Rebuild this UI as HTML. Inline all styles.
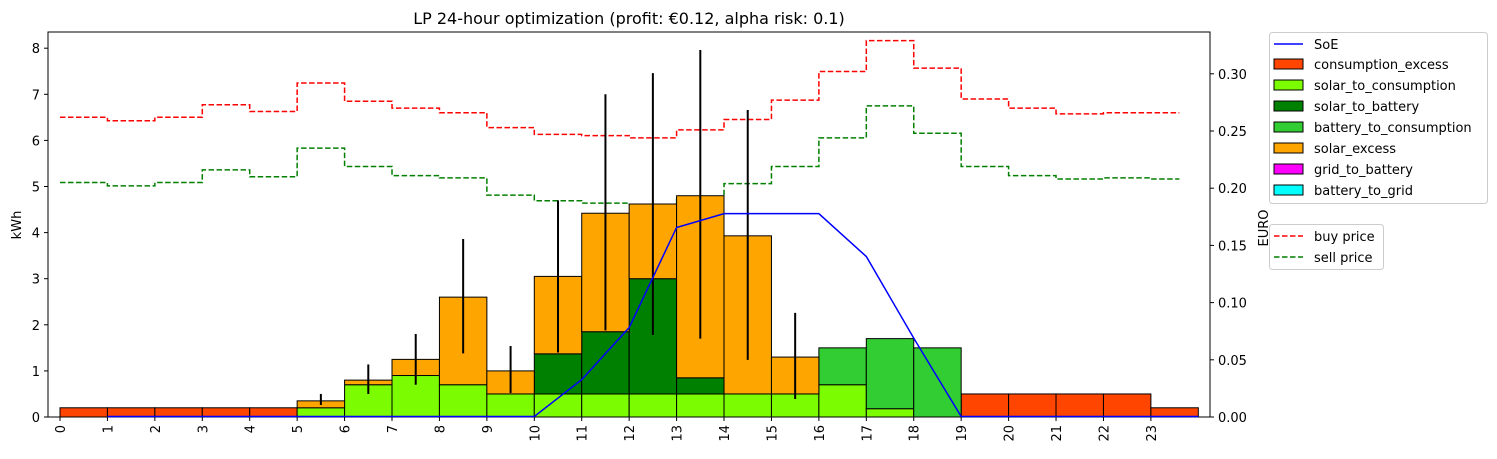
<!DOCTYPE html>
<html><head><meta charset="utf-8"><style>
body{margin:0;background:#fff;font-family:"Liberation Sans","DejaVu Sans",sans-serif}
svg text{font-family:"DejaVu Sans","Liberation Sans",sans-serif}
</style></head><body>
<svg id="chart" width="1497" height="454" xmlns="http://www.w3.org/2000/svg">
<text x="629" y="24" font-size="16" text-anchor="middle">LP 24-hour optimization (profit: €0.12, alpha risk: 0.1)</text>
<g id="plot"></g>
</svg>
<script>
const hours=[0,1,2,3,4,5,6,7,8,9,10,11,12,13,14,15,16,17,18,19,20,21,22,23];
const consumptionExcess=[0.2,0.2,0.2,0.2,0.2,0,0,0,0,0,0,0,0,0,0,0,0,0,0,0.5,0.5,0.5,0.5,0.2];
const solarToConsumption=[0,0,0,0,0,0.2,0.7,0.9,0.7,0.5,0.5,0.5,0.5,0.5,0.5,0.5,0.7,0.18,0,0,0,0,0,0];
const solarToBattery=[0,0,0,0,0,0,0,0,0,0,0.87,1.35,2.5,0.35,0,0,0,0,0,0,0,0,0,0];
const batteryToConsumption=[0,0,0,0,0,0,0,0,0,0,0,0,0,0,0,0,0.8,1.52,1.5,0,0,0,0,0];
const solarExcess=[0,0,0,0,0,0.15,0.1,0.35,1.9,0.5,1.68,2.57,1.62,3.95,3.43,0.8,0,0,0,0,0,0,0,0];
const gridToBattery=new Array(24).fill(0);
const batteryToGrid=new Array(24).fill(0);
const errLow=[null,null,null,null,null,0.26,0.5,0.7,1.38,0.52,1.4,1.88,1.78,1.7,1.24,0.39,null,null,null,null,null,null,null,null];
const errHigh=[null,null,null,null,null,0.5,1.14,1.8,3.86,1.54,4.7,7.0,7.46,7.96,6.66,2.26,null,null,null,null,null,null,null,null];
const soeHours=[1,2,3,4,5,6,7,8,9,10,11,12,13,14,15,16,17,18,19,20,21,22,23,24];
const soe=[0,0,0,0,0,0,0,0,0,0,0.8,1.93,4.1,4.4,4.4,4.4,3.47,1.7,0,0,0,0,0,0];
const buyPrice=[0.262,0.259,0.262,0.273,0.267,0.292,0.276,0.270,0.266,0.253,0.247,0.246,0.244,0.251,0.260,0.277,0.302,0.329,0.305,0.278,0.270,0.265,0.266,0.266];
const sellPrice=[0.205,0.202,0.205,0.216,0.210,0.235,0.219,0.211,0.209,0.194,0.189,0.187,0.186,0.193,0.204,0.219,0.244,0.272,0.248,0.219,0.211,0.208,0.209,0.208];
const priceEnd=23.6;
const yTicks=[0,1,2,3,4,5,6,7,8];
const y2Ticks=[0,0.05,0.10,0.15,0.20,0.25,0.30];
const y2Labels=["0.00","0.05","0.10","0.15","0.20","0.25","0.30"];

const L=48,R=1210,T=32,B=417;
const x=h=>60+h*47.43;
const y=v=>B-v*46.1;
const y2=v=>B-v*1144;
const NS="http://www.w3.org/2000/svg";
const g=document.getElementById('plot');
function mk(tag,attrs,parent){const e=document.createElementNS(NS,tag);for(const k in attrs)e.setAttribute(k,attrs[k]);(parent||g).appendChild(e);return e;}

function stepPath(arr){let d='';arr.forEach((v,i)=>{const e2=i===arr.length-1?priceEnd:i+1;d+=(i?'L':'M')+x(i)+','+y2(v)+'L'+x(e2)+','+y2(v);});return d;}
let e=mk('path',{d:stepPath(buyPrice),fill:'none',stroke:'#ff0000','stroke-width':1.5,'stroke-dasharray':'5.5,2.5'});


e=mk('path',{d:stepPath(sellPrice),fill:'none',stroke:'#008000','stroke-width':1.5,'stroke-dasharray':'5.5,2.5'});



const series=[[consumptionExcess,'#ff4500','consumption-excess'],[solarToConsumption,'#7cfc00','solar-to-consumption'],[solarToBattery,'#008000','solar-to-battery'],[batteryToConsumption,'#32cd32','battery-to-consumption'],[solarExcess,'#ffa500','solar-excess'],[gridToBattery,'#ff00ff','grid-to-battery'],[batteryToGrid,'#00ffff','battery-to-grid']];
const base=new Array(24).fill(0);
series.forEach(([arr,col,name])=>{arr.forEach((v,i)=>{if(v<=0)return;
 const r=mk('rect',{x:x(i),y:y(base[i]+v),width:47.43,height:v*46.1,fill:col,stroke:'#000','stroke-width':1});
 
 
 base[i]+=v;});});

errLow.forEach((lo,i)=>{if(lo==null)return;
 const l=mk('line',{x1:x(i+0.5),x2:x(i+0.5),y1:y(lo),y2:y(errHigh[i]),stroke:'#000','stroke-width':2});
 
 });

e=mk('rect',{x:L,y:T,width:R-L,height:B-T,fill:'none',stroke:'#000','stroke-width':1});



e=mk('polyline',{points:soeHours.map((h,i)=>x(h)+','+(y(soe[i])-0.5)).join(' '),fill:'none',stroke:'#0000ff','stroke-width':1.5});



yTicks.forEach(v=>{mk('line',{x1:L-4,x2:L,y1:y(v),y2:y(v),stroke:'#000'});
 const t=mk('text',{x:L-8,y:y(v)+5,'font-size':13,'text-anchor':'end'});t.textContent=v;
 
 });
e=mk('text',{x:21,y:225,'font-size':13,'text-anchor':'middle',transform:'rotate(-90 21 225)'});e.textContent='kWh';


y2Ticks.forEach((v,i)=>{mk('line',{x1:R,x2:R+4,y1:y2(v),y2:y2(v),stroke:'#000'});
 const t=mk('text',{x:R+8,y:y2(v)+5,'font-size':13});t.textContent=y2Labels[i];
 
 });
e=mk('text',{x:1268,y:228,'font-size':13,'text-anchor':'middle',transform:'rotate(-90 1268 228)'});e.textContent='EURO';


hours.forEach(h=>{mk('line',{x1:x(h),x2:x(h),y1:B,y2:B+4,stroke:'#000'});
 const t=mk('text',{x:x(h)+5,y:B+8,'font-size':13,'text-anchor':'end',transform:`rotate(-90 ${x(h)+5} ${B+8})`});t.textContent=h;
 
 });

const lg=mk('g',{});


mk('rect',{x:1269.5,y:32.5,width:218,height:171,rx:3,fill:'#fff',stroke:'#ccc'},lg);
mk('line',{x1:1274,x2:1303,y1:44,y2:44,stroke:'#0000ff','stroke-width':1.5},lg);
let t=mk('text',{x:1314,y:49,'font-size':13},lg);t.textContent='SoE';


const names=['consumption_excess','solar_to_consumption','solar_to_battery','battery_to_consumption','solar_excess','grid_to_battery','battery_to_grid'];
series.forEach(([a,col],i)=>{const yy=65+i*21;
 mk('rect',{x:1274,y:yy-6,width:29,height:10,fill:col,stroke:'#000'},lg);
 const tt=mk('text',{x:1314,y:yy+4,'font-size':13},lg);tt.textContent=names[i];
 
 });
const lg2=mk('g',{});


mk('rect',{x:1269.5,y:224.5,width:114,height:45,rx:3,fill:'#fff',stroke:'#ccc'},lg2);
mk('line',{x1:1274,x2:1303,y1:236,y2:236,stroke:'#ff0000','stroke-width':1.5,'stroke-dasharray':'5.5,2.5'},lg2);
mk('line',{x1:1274,x2:1303,y1:257,y2:257,stroke:'#008000','stroke-width':1.5,'stroke-dasharray':'5.5,2.5'},lg2);
t=mk('text',{x:1314,y:241,'font-size':13},lg2);t.textContent='buy price';


t=mk('text',{x:1314,y:262,'font-size':13},lg2);t.textContent='sell price';


</script>
</body></html>
